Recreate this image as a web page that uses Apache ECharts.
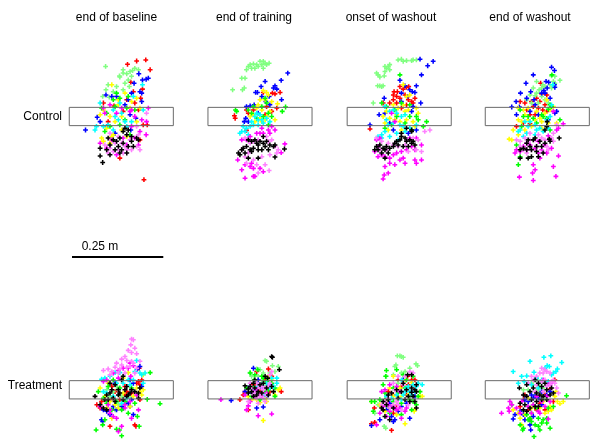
<!DOCTYPE html>
<html>
<head>
<meta charset="utf-8">
<script src="https://cdn.jsdelivr.net/npm/echarts@6/dist/echarts.min.js"></script>
<style>html,body{margin:0;padding:0;background:#fff}#chart{width:590px;height:441px}</style>
</head>
<body>
<div id="chart"></div>
<script>
// Column titles and row labels
const columnTitles = ["end of baseline", "end of training", "onset of washout", "end of washout"];
const rowLabels = ["Control", "Treatment"];
// Target box size in mm [width, height]
const targetSize = [285, 50];
// Scale bar length in mm and its label
const scaleBarLength = 250;
const scaleBarLabel = "0.25 m";
// Subject colour order used in each panel array below
const subjectColors = ["#ff0000", "#80ff80", "#0000ff", "#ffff00", "#00ff00", "#00ffff", "#ff00ff", "#ff80ff", "#000000"];

// Endpoint positions relative to target centre (mm), one list per subject colour
const ctrlBaseline = [
 [[17,143],[42,152],[67,155],[79,128],[26,94],[33,68],[58,75],[37,37],[53,50],[47,18],[5,14],[-20,29],[60,-23],[71,-23],[51,-64],[-4,-114],[-49,37],[-36,-14],[15,46],[62,-173]],
 [[-43,137],[5,128],[-5,111],[15,117],[24,123],[31,126],[37,132],[47,128],[28,110],[19,100],[10,91],[5,73],[-13,82],[-22,68],[-36,87],[-33,53],[-51,55],[-42,73],[22,82],[-4,108],[5,119]],
 [[48,117],[58,100],[68,102],[74,105],[35,91],[56,64],[51,68],[28,64],[19,46],[-13,55],[-26,55],[-42,59],[10,32],[24,5],[-66,-2],[-98,-37],[-58,-14],[-40,-27],[-17,-46],[40,-5],[56,41],[26,-37]],
 [[-26,87],[10,64],[28,41],[42,50],[-8,32],[-49,18],[-58,5],[-31,0],[-17,-14],[-40,-32],[-54,-59],[-49,-68],[-26,-55],[1,-37],[15,-55],[42,-14],[51,23],[24,23],[1,0],[-8,46],[-22,-50],[-31,-73]],
 [[-4,50],[-22,46],[15,23],[-40,9],[-17,27],[24,-50],[-31,-27],[-54,23],[37,18],[10,-9],[-4,-23],[-45,-41],[-13,64],[19,55]],
 [[58,87],[-4,37],[-8,-9],[10,-14],[-17,0],[-36,-23],[-72,-37],[-68,-27],[-49,-27],[-22,-37],[15,-27],[28,-14],[-22,18],[-58,37],[33,55],[60,18],[1,9]],
 [[-45,9],[-49,23],[-31,32],[-13,9],[24,14],[37,0],[56,-9],[69,-14],[74,23],[28,-27],[47,-78],[15,-78],[5,-59],[-26,-64],[-58,-73],[-13,-105],[-40,-87],[68,-50],[37,-59],[28,18],[1,23],[51,-41]],
 [[-45,-78],[-31,-87],[-22,-96],[-8,-91],[5,-100],[28,-91],[42,-82],[51,-91],[10,-82],[-36,-100],[-17,-73],[1,-73],[24,-64],[47,-50],[-31,-46],[-8,-55],[15,-91],[42,-27],[69,9]],
 [[5,-41],[10,-32],[15,-50],[-4,-59],[-13,-68],[-8,-82],[5,-73],[19,-82],[28,-68],[42,-59],[47,-64],[28,-55],[-22,-64],[-31,-78],[-17,-91],[-40,-91],[-58,-87],[-58,-108],[-51,-126],[-31,-105],[15,-100],[-4,-100],[33,-82],[19,-37],[1,-91],[-36,-59]]
];
const ctrlTraining = [
 [[34,64],[41,62],[55,66],[9,66],[18,27],[-18,18],[-37,18],[-70,2],[-68,-5],[-32,9],[14,5],[-37,-38],[32,14],[46,23]],
 [[-32,137],[-27,142],[-18,144],[-9,142],[0,151],[9,151],[5,142],[14,146],[25,146],[-14,132],[-23,132],[-5,137],[-37,128],[9,132],[-41,105],[-50,105],[-43,78],[-48,73],[-75,73],[18,142]],
 [[76,119],[58,99],[41,84],[37,78],[46,75],[14,96],[3,82],[-12,66],[-7,66],[5,55],[25,55],[16,41],[-27,29],[-16,32],[-37,27],[-39,-5],[-43,-14],[-32,-14],[-5,9],[59,46],[27,32]],
 [[9,71],[18,66],[23,59],[48,35],[0,46],[14,46],[-9,23],[5,18],[-18,5],[0,-5],[14,-9],[27,14],[41,-9],[-14,-14],[-27,0],[-5,32],[32,41],[5,-14],[18,0]],
 [[14,50],[-67,18],[-64,14],[-32,18],[-23,9],[5,27],[23,9],[32,0],[61,14],[70,26],[-9,-5],[9,0],[23,-23],[-18,27],[18,37]],
 [[-14,0],[-5,-9],[5,-9],[-23,-14],[-18,-23],[-27,-27],[-37,-32],[-41,-41],[-50,-41],[-55,-46],[-46,-27],[-5,-23],[9,-18],[18,-5],[27,-14],[-32,-50],[-9,9],[0,5]],
 [[32,-27],[23,-37],[27,-46],[-27,-55],[-37,-64],[-50,-64],[-9,-46],[5,-32],[9,-46],[41,-37],[68,-75],[58,-99],[-61,-119],[-50,-146],[-41,-132],[-27,-137],[-18,-142],[-14,-164],[-41,-169],[0,-142],[9,-151],[-18,-164],[-23,-128],[0,-46]],
 [[-41,-59],[-27,-73],[-18,-68],[-5,-64],[18,-55],[23,-68],[32,-64],[50,-91],[46,-100],[41,-82],[-32,-100],[-41,-110],[-18,-119],[5,-110],[27,-105],[-50,-91],[-9,-132],[14,-132],[25,-148],[-37,-128],[-5,-155]],
 [[-32,-64],[-23,-68],[-14,-64],[-9,-73],[-5,-78],[0,-68],[9,-73],[14,-82],[18,-68],[27,-78],[37,-82],[41,-78],[9,-55],[-5,-91],[-18,-87],[-27,-91],[-37,-82],[-46,-87],[-50,-91],[-59,-100],[-55,-105],[-41,-100],[-23,-96],[-5,-114],[-32,-114],[41,-111],[67,-89],[5,-91],[23,-91]]
];
const ctrlOnset = [
 [[-14,68],[-5,68],[2,82],[11,75],[20,80],[26,82],[16,59],[-7,55],[-16,59],[25,46],[34,41],[38,37],[-7,37],[-26,37],[-44,37],[6,23],[-80,-34],[20,32],[43,50],[2,50],[-16,46]],
 [[-3,155],[6,157],[20,153],[38,155],[47,155],[-26,142],[-30,137],[-35,132],[-39,137],[-62,119],[-58,114],[-53,108],[-59,84],[-53,84],[-44,84],[-39,123],[-26,128],[-71,37],[-48,82],[-41,111],[11,151],[34,153]],
 [[57,157],[78,139],[93,151],[61,114],[47,84],[36,68],[43,66],[29,73],[16,84],[6,64],[23,55],[2,99],[-41,50],[59,37],[38,27],[34,14],[-80,-23],[-55,5],[-26,-18],[-16,-37],[25,-46],[47,-37],[-39,9],[6,41]],
 [[11,87],[20,55],[29,59],[-16,32],[-3,23],[16,14],[25,18],[47,23],[52,9],[-35,14],[-44,0],[-26,-5],[-12,-9],[2,-14],[20,-9],[38,-14],[-39,-18],[-30,-37],[6,-37],[43,-27],[-7,5],[11,32]],
 [[2,114],[-48,37],[-35,27],[-12,18],[6,37],[29,32],[47,0],[52,-9],[75,-14],[66,-27],[-7,0],[16,-18],[29,0],[-21,-23],[-39,-32],[34,-37]],
 [[-39,27],[-26,14],[-16,18],[-7,9],[6,0],[16,5],[2,-23],[11,-27],[-16,-18],[-30,-23],[-39,-41],[-48,-50],[-58,-55],[-48,-59],[-26,-55],[-7,-46],[16,-41],[29,-32],[47,-23],[-3,-64],[-35,-9]],
 [[-21,9],[-12,-14],[-53,-59],[-62,-64],[-58,-82],[-67,-96],[-58,-110],[-48,-105],[-39,-110],[-26,-114],[-16,-105],[-7,-100],[6,-96],[20,-91],[34,-82],[43,-91],[61,-78],[2,-119],[-12,-132],[-26,-128],[-39,-137],[43,-119],[47,-128],[61,-119],[16,-128],[-30,-155],[-41,-160],[-44,-171],[11,-114],[29,-59],[47,-59]],
 [[-62,-59],[-48,-68],[-30,-73],[-16,-78],[20,-64],[38,-59],[52,-64],[70,-41],[84,-37],[61,-96],[25,-96],[-3,-82],[-35,-91],[-53,-91],[47,-91],[16,-78]],
 [[6,-55],[16,-59],[2,-64],[-7,-68],[20,-68],[29,-64],[34,-73],[43,-78],[25,-82],[11,-82],[-3,-78],[-16,-82],[-26,-87],[-35,-82],[-44,-87],[-53,-78],[-62,-82],[-67,-91],[-58,-91],[-39,-91],[-30,-100],[-48,-100],[-39,-114],[20,-32],[34,-37],[6,-46],[-12,-73],[38,-68],[34,-41]]
];
const ctrlEnd = [
 [[9,91],[12,62],[-2,50],[-16,41],[-34,37],[-11,27],[3,23],[21,32],[15,18],[-29,18],[-20,5],[-6,5],[26,14],[-38,-18],[-57,-27],[-20,-20],[26,59],[7,41],[-47,41]],
 [[39,111],[48,110],[62,99],[44,96],[48,91],[-2,96],[5,73],[12,78],[21,82],[-11,78],[-20,59],[-6,57],[12,55],[21,46],[3,37],[30,37],[-16,37],[39,78],[35,87],[15,87],[-2,64],[-29,46]],
 [[39,135],[47,126],[-11,114],[-31,91],[-46,64],[-18,68],[-29,50],[-58,41],[-49,26],[-70,26],[24,96],[31,94],[47,87],[48,80],[27,78],[18,71],[12,64],[21,64],[35,50],[53,14],[48,9],[-9,46],[-6,32],[-20,14],[3,5],[30,-9],[-57,5]],
 [[-52,23],[-38,18],[-34,5],[-25,23],[-2,14],[21,9],[35,18],[44,27],[-52,-9],[-43,-14],[-25,-9],[-6,-9],[7,-5],[-66,-37],[-34,-37],[12,-14],[-77,-62],[-70,-64],[-52,-50],[30,-18],[53,-18],[12,-32],[-16,-27],[26,46]],
 [[40,114],[35,32],[39,27],[30,20],[-47,18],[-38,0],[-25,0],[-11,-5],[16,0],[26,-5],[62,-9],[-43,-27],[-57,-78],[-47,-110],[-52,-132],[12,5],[-2,-18],[35,-37]],
 [[42,87],[39,32],[-34,-14],[-20,-14],[-6,-23],[7,-32],[-47,-37],[-52,-41],[-29,-46],[-2,-37],[26,-9],[16,-41],[-6,-50],[-38,-55],[35,0],[-25,-27],[30,-32]],
 [[44,14],[71,-20],[58,-32],[53,-37],[30,-53],[35,-64],[21,-78],[12,-91],[3,-100],[-6,-87],[-20,-78],[-29,-73],[-38,-82],[-47,-96],[-57,-91],[-61,-100],[39,-87],[58,-108],[44,-137],[51,-164],[-11,-132],[-6,-146],[-13,-155],[-11,-175],[-49,-166],[7,-114],[26,-100],[-29,-91],[3,-68]],
 [[-47,-68],[-34,-59],[-20,-64],[-6,-64],[12,-59],[21,-64],[39,-59],[44,-68],[26,-82],[16,-96],[-2,-82],[-16,-91],[-38,-91],[-47,-82],[-29,-100],[44,-46],[53,-23],[30,-91],[3,-50],[-20,-46],[-57,-64]],
 [[27,-14],[26,-27],[21,-37],[33,-62],[35,-68],[60,-59],[-6,-59],[-11,-64],[-25,-64],[-29,-73],[-20,-82],[-38,-87],[-47,-91],[-29,-91],[-16,-91],[-2,-82],[12,-82],[3,-110],[-16,-110],[-47,-114],[-25,-114],[21,-73],[7,-68],[16,-100],[-2,-96]]
];
const trtBaseline = [
 [[49,59],[47,23],[56,27],[42,18],[51,14],[-26,9],[10,9],[15,-5],[28,-9],[-54,-32],[-67,-41],[-58,-50],[-26,-23],[-4,-27],[37,-96],[40,-100],[-31,-100],[10,-14],[51,-27],[-17,-5]],
 [[-13,9],[-22,-5],[-31,-18],[1,-18],[15,-32],[-17,-55],[-8,-41],[24,-23],[-40,0]],
 [[51,64],[44,57],[24,27],[33,18],[28,-27],[24,-46],[19,-37],[1,-46],[5,-50],[-13,-55],[-31,-68],[-40,-59],[-51,-87],[-54,-82],[33,-68],[-22,-46],[-17,18],[-49,-55],[56,9]],
 [[19,47],[60,41],[5,32],[-36,18],[-58,5],[42,5],[51,-5],[56,-14],[-45,-18],[-31,-32],[-17,-41],[-8,-50],[-26,-78],[24,-46],[33,-18],[5,-9],[60,0],[-40,-50]],
 [[79,47],[71,-26],[106,-38],[-22,27],[-36,9],[-4,5],[28,5],[-49,-23],[-40,-37],[-13,-32],[10,-32],[37,-37],[1,-55],[-45,-82],[-51,-96],[-69,-110],[-13,-108],[-5,-110],[1,-126],[49,-100],[44,-73],[19,-64],[-26,-55],[-63,-5]],
 [[42,80],[37,50],[51,46],[56,41],[65,46],[-4,47],[-17,47],[-31,37],[-45,32],[-54,29],[-13,18],[5,18],[19,27],[33,27],[24,14],[-22,-18],[-40,-9],[-49,-5],[60,18],[15,-23],[1,-37]],
 [[24,73],[19,59],[5,59],[-8,53],[-22,46],[33,66],[26,37],[-40,27],[-49,23],[-31,-55],[-22,-73],[-13,-78],[1,-100],[-31,-64],[-36,-41],[-58,-46],[10,-41],[24,-32],[47,-55],[28,-78],[-8,-114],[10,-50],[42,-14],[-8,32]],
 [[28,139],[33,137],[26,123],[37,114],[19,108],[28,102],[42,99],[10,91],[1,84],[15,80],[28,78],[-13,73],[1,68],[15,62],[24,64],[-17,62],[-49,53],[-36,57],[-26,50],[-4,57],[33,73],[51,78],[42,59],[-31,41],[-8,46],[10,46],[37,46]],
 [[5,37],[1,27],[-31,18],[-17,14],[-8,0],[10,0],[15,9],[28,0],[24,-9],[37,-5],[47,-9],[-31,-9],[-40,-14],[-45,-27],[-36,-27],[-22,-23],[-8,-14],[-72,-18],[-58,-41],[-49,-50],[-40,-55],[-17,-32],[15,-18],[5,-27],[47,-23],[51,5],[-26,0],[-4,-9],[19,-14]]
];
const trtTraining = [
 [[23,57],[-9,50],[58,-5],[-55,-27],[-32,-55],[-41,-5],[-46,-14],[14,27],[0,-5],[27,-5],[-18,14],[32,37]],
 [[14,80],[18,78],[34,66],[50,64],[-9,57],[0,55],[-27,47],[-23,37],[-5,37],[9,46],[27,46],[41,50],[5,27],[27,27],[-9,18],[14,9]],
 [[-18,59],[-41,-5],[-79,-29],[-9,-50],[9,-47],[-32,5],[-23,-9],[5,5],[27,14],[-5,27],[18,-18]],
 [[55,5],[50,0],[14,-23],[18,-32],[0,-35],[9,-84],[-9,-27],[-23,-27],[23,37],[32,27],[-32,-18],[41,-14]],
 [[-6,55],[-27,46],[-14,41],[-16,27],[5,37],[18,23],[32,18],[41,5],[-18,5],[-37,5],[-9,-9],[14,-5],[41,-18],[0,-27],[-23,-18],[23,0],[9,32]],
 [[46,32],[32,32],[18,18],[5,14],[27,5],[37,9],[-5,9],[14,-14],[-14,0],[46,18]],
 [[-107,-27],[-32,-44],[-37,-55],[-5,-71],[32,-66],[-14,-18],[5,-18],[-18,-5],[-41,-14],[18,-9],[-27,-32],[0,-14],[-9,0]],
 [[-9,18],[0,14],[5,9],[-5,5],[9,0],[5,-9],[-14,-9],[14,5],[23,9],[0,-18],[-9,-23],[-18,-14],[18,-14],[9,-23],[27,18],[-23,5],[-32,-32],[14,-32],[-5,-37],[27,41],[32,50],[-27,18]],
 [[32,91],[34,89],[53,55],[14,37],[21,32],[-14,27],[-18,18],[-27,9],[-32,2],[-41,11],[-23,-5],[-14,5],[0,14],[9,18],[-5,-5],[18,5],[23,-14],[32,9],[5,-9],[-9,-14],[37,-5],[-32,-9],[-18,-18]]
];
const trtOnset = [
 [[23,37],[34,27],[43,27],[25,14],[-3,27],[6,9],[-30,-5],[-48,-46],[-68,-50],[-67,-89],[-76,-93],[-21,-111],[-16,-14],[20,-14],[-16,-64],[-7,-41]],
 [[-5,93],[2,93],[6,91],[11,89],[-9,68],[-12,64],[46,71],[50,66],[16,50],[-35,37],[-16,41],[6,46],[-37,-105],[-41,-100],[-67,-64],[-58,-41],[29,59],[-3,18]],
 [[11,27],[43,-18],[29,-78],[-12,-82],[-16,-87],[-53,-82],[-76,-98],[-35,-55],[-21,-73],[20,-37],[6,-46],[-3,-59],[-26,-37],[34,-5]],
 [[-16,37],[16,27],[34,20],[-26,5],[-35,-32],[-76,-32],[-53,-41],[-39,-59],[-7,-68],[16,-93],[25,-14],[43,-53],[41,-59],[57,-18],[63,-18],[6,-18],[-16,-18],[2,5]],
 [[-35,53],[-37,37],[-7,55],[11,41],[20,27],[38,37],[-44,14],[-39,-9],[-76,-32],[-67,-32],[-71,-59],[-53,-27],[-35,-23],[-16,-32],[6,-37],[29,-27],[38,-32],[52,-18],[57,-5],[16,5],[-3,-9],[-16,5],[-26,-64],[6,-68],[47,-41],[34,-55],[-30,-46]],
 [[38,14],[52,18],[63,14],[43,-5],[20,5],[29,-5],[34,-14],[11,-14],[16,-5],[25,9],[6,-27],[-7,-14],[-21,-23],[-35,-18],[6,27],[47,9]],
 [[-39,0],[-48,-5],[-26,14],[-7,9],[2,-5],[-30,-41],[-44,-46],[-35,-73],[-62,-96],[-26,-59],[-12,-50],[2,-50],[-21,-46],[20,-50],[16,-59],[6,-78],[-7,-55],[-53,-64]],
 [[29,50],[38,46],[16,37],[-3,37],[-16,18],[-12,0],[-30,-23],[-7,-32],[-16,-41],[6,-55],[-3,-41],[-26,-50],[-39,-32],[25,-41],[-48,-41],[11,14]],
 [[34,41],[23,41],[47,14],[43,0],[34,5],[20,0],[25,-18],[38,-18],[29,-32],[6,-5],[-7,0],[-21,-9],[-30,-14],[-44,-32],[-35,-41],[-44,-55],[-39,-73],[-26,-82],[-48,-50],[16,-27],[43,-32],[47,-50],[47,-5],[11,18],[-3,-23],[-16,-50],[-30,-27],[34,-7]]
];
const trtEnd = [
 [[48,27],[35,2],[-38,-27],[-47,-46],[-25,-55],[-20,-80],[-2,-55],[21,-14],[44,-32],[7,-37],[-34,-14],[21,-55]],
 [[-2,27],[7,9],[12,-9],[-6,-14],[3,0],[16,5],[-16,18],[-38,0],[-25,0],[21,-23],[-11,14]],
 [[35,-5],[12,-5],[-6,-18],[-16,-14],[-25,-32],[-11,-23],[3,-23],[-34,-27],[-47,-59],[-61,-68],[-66,-80],[-34,-82],[-20,-96],[-18,-110],[-11,-73],[-38,-68],[26,-14],[12,-41]],
 [[51,-5],[62,-38],[71,-32],[55,-32],[35,-46],[39,-55],[30,-59],[21,-64],[7,-50],[-16,-50],[-66,-55],[-47,-78],[-34,-68],[-43,-96],[48,-18],[16,-32],[-25,-23],[-52,-64]],
 [[80,-16],[44,-46],[30,-50],[-2,-50],[-16,-64],[-20,-78],[-25,-82],[-16,-87],[-6,-96],[3,-100],[7,-110],[26,-91],[35,-105],[26,-78],[-47,-96],[-40,-110],[-9,-128],[-38,-105],[3,-78],[12,-91],[16,-82],[-29,-68],[-70,-41],[-11,-41]],
 [[18,89],[37,93],[-20,78],[-9,48],[-66,50],[-43,37],[-29,38],[-36,23],[-52,18],[55,57],[51,50],[44,46],[67,75],[33,64],[27,66],[39,41],[21,59],[-2,32],[12,27],[30,23],[-16,14],[3,5]],
 [[16,27],[30,14],[39,18],[-75,-32],[-77,-59],[-98,-64],[-79,-50],[-70,-41],[-57,-50],[-43,-32],[-25,-46],[-11,-41],[12,-32],[21,-46],[35,-32],[7,-64],[-16,-64],[30,-80],[3,-59],[-47,-64],[26,-18],[-2,-18]],
 [[12,59],[21,55],[26,50],[7,46],[16,46],[35,46],[-2,37],[-16,37],[-11,27],[12,23],[21,27],[39,23],[44,27],[-25,18],[-2,14],[26,9],[35,14],[48,18],[53,5],[58,-9],[16,-5],[-6,-5]],
 [[-6,27],[-29,14],[3,18],[21,18],[-11,5],[12,9],[26,0],[39,5],[-20,-5],[-2,-9],[7,-14],[16,-18],[-29,-18],[-38,-14],[-47,-37],[-34,-41],[-16,-27],[-2,-32],[12,-27],[26,-27],[-38,-55],[-29,-59],[-20,-50],[3,-46],[35,-14],[44,-9],[-6,-46],[-49,5]]
];

// Panels in reading order (row-major)
const panels = [ctrlBaseline, ctrlTraining, ctrlOnset, ctrlEnd, trtBaseline, trtTraining, trtOnset, trtEnd];

// ---------- layout (pixels) ----------
const pxPerMm = 91.3 / 250;
const colCenters = [121.3, 260.0, 399.2, 537.3];
const rowCenters = [116.5, 389.8];
const gridHalfW = 52, gridHalfH = 50;
const titleCenters = [116.5, 254, 391, 530];
const font = '12px "Liberation Sans", Arial, sans-serif';
const plusSymbol = 'path://M3.4,0H6.6V3.4H10V6.6H6.6V10H3.4V6.6H0V3.4H3.4Z';

const grids = [], xAxes = [], yAxes = [], series = [];
const hiddenAxis = {show: false, axisLine: {show: false}, axisTick: {show: false}, axisLabel: {show: false}, splitLine: {show: false}};

panels.forEach((panel, p) => {
  const cx = colCenters[p % 4], cy = rowCenters[Math.floor(p / 4)];
  grids.push({left: cx - gridHalfW, top: cy - gridHalfH, width: 2 * gridHalfW, height: 2 * gridHalfH, containLabel: false});
  xAxes.push(Object.assign({type: 'value', gridIndex: p, min: -gridHalfW / pxPerMm, max: gridHalfW / pxPerMm}, hiddenAxis));
  yAxes.push(Object.assign({type: 'value', gridIndex: p, min: -gridHalfH / pxPerMm, max: gridHalfH / pxPerMm}, hiddenAxis));
  panel.forEach((pts, c) => {
    series.push({
      type: 'scatter', xAxisIndex: p, yAxisIndex: p, data: pts,
      symbol: plusSymbol, symbolSize: 4.8, clip: false,
      itemStyle: {color: subjectColors[c], opacity: 1}, silent: true, z: 2
    });
  });
  const hw = targetSize[0] / 2, hh = targetSize[1] / 2;
  series.push({
    type: 'line', xAxisIndex: p, yAxisIndex: p,
    data: [[-hw, -hh], [hw, -hh], [hw, hh], [-hw, hh], [-hw, -hh]],
    symbol: 'none', lineStyle: {color: '#6a6a6a', width: 1}, silent: true, z: 3, clip: false
  });
});

// scale bar grid
const sbIndex = panels.length;
grids.push({left: 72, top: 252, width: scaleBarLength * pxPerMm, height: 10});
xAxes.push(Object.assign({type: 'value', gridIndex: sbIndex, min: 0, max: scaleBarLength}, hiddenAxis));
yAxes.push(Object.assign({type: 'value', gridIndex: sbIndex, min: -1, max: 1}, hiddenAxis));
series.push({
  type: 'line', xAxisIndex: sbIndex, yAxisIndex: sbIndex,
  data: [[0, 0], [scaleBarLength, 0]], symbol: 'none',
  lineStyle: {color: '#000', width: 2.2}, silent: true
});

const graphics = [];
columnTitles.forEach((t, i) => graphics.push({type: 'text', x: titleCenters[i], y: 18,
  style: {text: t, font: font, fill: '#000', align: 'center', verticalAlign: 'middle', textAlign: 'center', textVerticalAlign: 'middle'}}));
rowLabels.forEach((t, i) => graphics.push({type: 'text', x: 62, y: i === 0 ? 116.5 : 386,
  style: {text: t, font: font, fill: '#000', align: 'right', verticalAlign: 'middle', textAlign: 'right', textVerticalAlign: 'middle'}}));
graphics.push({type: 'text', x: 100, y: 246.5,
  style: {text: scaleBarLabel, font: font, fill: '#000', align: 'center', verticalAlign: 'middle', textAlign: 'center', textVerticalAlign: 'middle'}});

const chart = echarts.init(document.getElementById('chart'), null, {renderer: 'canvas'});
chart.setOption({
  animation: false,
  backgroundColor: '#ffffff',
  grid: grids, xAxis: xAxes, yAxis: yAxes, series: series, graphic: graphics
});
</script>
</body>
</html>
